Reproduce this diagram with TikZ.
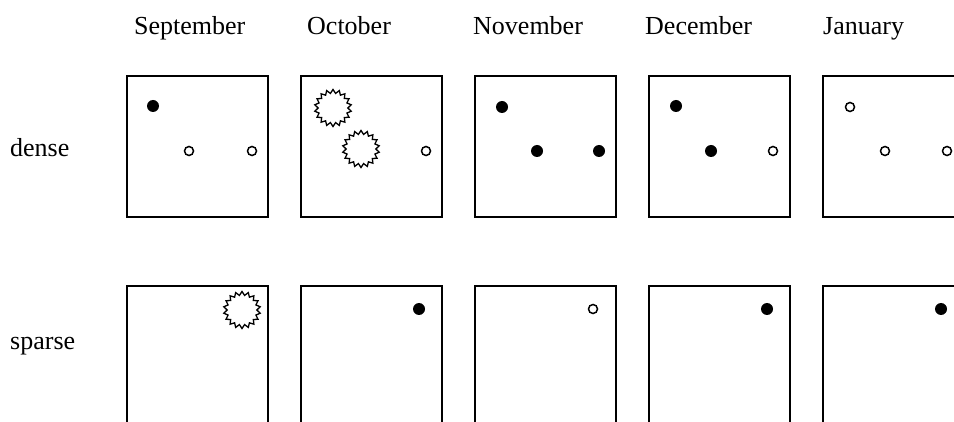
\documentclass[tikz,border=0pt]{standalone}
\usepackage{fontspec}
\setmainfont{Liberation Serif}
\usetikzlibrary{shapes.geometric}
\tikzset{
  panel/.style={draw=black, line width=2pt, minimum width=141pt, minimum height=141pt, inner sep=0pt, outer sep=0pt, anchor=north west},
  full/.style={circle, fill=black, draw=none, minimum size=12pt, inner sep=0pt},
  hollow/.style={circle, draw=black, fill=white, line width=1.5pt, minimum size=9pt, inner sep=0pt},
  burst/.style={star, star points=18, star point ratio=1.25, draw=black, line width=1.3pt, minimum size=37pt, inner sep=0pt},
  lbl/.style={font=\fontsize{26}{30}\selectfont, anchor=base west, inner sep=0pt}
}
\begin{document}
\begin{tikzpicture}[x=1pt,y=-1pt]
\useasboundingbox (0,0) rectangle (954,422);
\clip (0,0) rectangle (954,422);
\fill[white] (0,0) rectangle (954,422);
% month labels
\node[lbl] (m1) at (134,35) {September};
\node[lbl] (m2) at (307,35) {October};
\node[lbl] (m3) at (473,35) {November};
\node[lbl] (m4) at (645,35) {December};
\node[lbl] (m5) at (823,35) {January};
% row labels
\node[lbl] (rd) at (10,157) {dense};
\node[lbl] (rs) at (10,349) {sparse};
% panels
\foreach \i/\x in {1/127,2/301,3/475,4/649,5/823}{
  \node[panel] (d\i) at (\x,76) {};
  \node[panel] (s\i) at (\x,286) {};
}
% dense row: September
\begin{scope}[shift={(127,76)}]
  \node[full]   (d1a) at (26,30) {};
  \node[hollow] (d1b) at (62,75) {};
  \node[hollow] (d1c) at (125,75) {};
\end{scope}
% October
\begin{scope}[shift={(301,76)}]
  \node[burst]  (d2a) at (32,32) {};
  \node[burst]  (d2b) at (60,73) {};
  \node[hollow] (d2c) at (125,75) {};
\end{scope}
% November
\begin{scope}[shift={(475,76)}]
  \node[full] (d3a) at (27,31) {};
  \node[full] (d3b) at (62,75) {};
  \node[full] (d3c) at (124,75) {};
\end{scope}
% December
\begin{scope}[shift={(649,76)}]
  \node[full]   (d4a) at (27,30) {};
  \node[full]   (d4b) at (62,75) {};
  \node[hollow] (d4c) at (124,75) {};
\end{scope}
% January
\begin{scope}[shift={(823,76)}]
  \node[hollow] (d5a) at (27,31) {};
  \node[hollow] (d5b) at (62,75) {};
  \node[hollow] (d5c) at (124,75) {};
\end{scope}
% sparse row
\node[burst]  (s1a) at (242,310) {};
\node[full]   (s2a) at (419,309) {};
\node[hollow] (s3a) at (593,309) {};
\node[full]   (s4a) at (767,309) {};
\node[full]   (s5a) at (941,309) {};
\end{tikzpicture}
\end{document}
